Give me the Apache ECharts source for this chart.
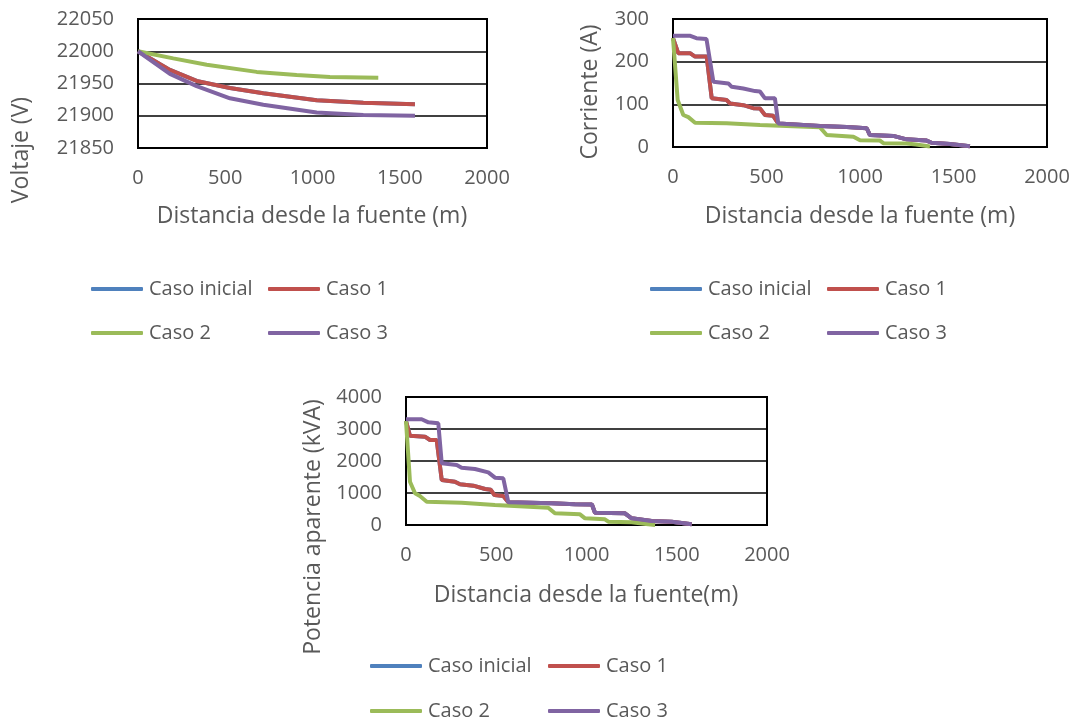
<!DOCTYPE html>
<html>
<head>
<meta charset="utf-8">
<script src="https://cdn.jsdelivr.net/npm/echarts@6/dist/echarts.min.js"></script>
<style>
html,body{margin:0;padding:0;background:#fff;}
#c{width:1076px;height:722px;}
</style>
</head>
<body>
<div id="c"></div>
<script>
// ---------- DATA ----------
var seriesNames = ['Caso inicial', 'Caso 1', 'Caso 2', 'Caso 3'];
var seriesColors = ['#4F81BD', '#C0504D', '#9BBB59', '#8064A2'];

// Voltage (V) vs distance (m)
var vDistA = [0, 183, 336, 527, 718, 1024, 1291, 1587];
var vInicial = [22000, 21971, 21954, 21943, 21935, 21924, 21920, 21918];
var vCaso1 = [22000, 21971, 21954, 21943, 21935, 21924, 21920, 21918];
var vCaso3 = [22000, 21965, 21946, 21927, 21917, 21905, 21901, 21900];
var vDist2 = [0, 202, 394, 680, 909, 1100, 1377];
var vCaso2 = [22000, 21989, 21979, 21968, 21963, 21960, 21959];

// Current (A) vs distance (m)
var iDist1 = [0, 28, 91, 118, 180, 207, 287, 305, 376, 429, 465, 492, 536, 563, 786, 929, 1036, 1053, 1178, 1249, 1356, 1383, 1481, 1588];
var iInicial = [255, 220, 220, 212, 212, 114, 110, 102, 98, 91, 90, 75, 73, 55, 49, 47, 44, 28, 26, 18, 15, 10, 7, 2];
var iCaso1 = [255, 220, 220, 212, 212, 114, 110, 102, 98, 91, 90, 75, 73, 55, 49, 47, 44, 28, 26, 18, 15, 10, 7, 2];
var iDist2 = [0, 25, 55, 82, 118, 287, 465, 786, 822, 965, 1000, 1107, 1125, 1249, 1300, 1374];
var iCaso2 = [255, 110, 75, 70, 57, 55.5, 51.5, 46, 28, 24, 16, 15, 9, 8, 6, 1];
var iDist3 = [0, 89, 125, 179, 189, 216, 296, 314, 376, 439, 465, 492, 545, 563, 786, 929, 1036, 1053, 1178, 1249, 1356, 1383, 1481, 1588];
var iCaso3 = [261, 261, 255, 253, 251, 153, 149, 141, 137, 131, 130, 114, 114, 55, 49, 47, 44, 28, 26, 18, 15, 10, 7, 2];

// Apparent power (kVA) vs distance (m)
var pDist1 = [0, 22, 105, 133, 170, 198, 271, 299, 373, 438, 470, 490, 539, 567, 807, 936, 1030, 1047, 1213, 1250, 1361, 1472, 1583];
var pInicial = [3250, 2792, 2760, 2656, 2656, 1406, 1354, 1271, 1229, 1125, 1100, 937, 906, 708, 677, 646, 640, 385, 365, 208, 125, 104, 21];
var pCaso1 = [3250, 2792, 2760, 2656, 2656, 1406, 1354, 1271, 1229, 1125, 1100, 937, 906, 708, 677, 646, 640, 385, 365, 208, 125, 104, 21];
var pDist2 = [0, 22, 50, 77, 115, 308, 493, 788, 825, 964, 992, 1102, 1121, 1250, 1342, 1380];
var pCaso2 = [3250, 1354, 990, 906, 729, 698, 625, 542, 365, 333, 208, 177, 104, 83, 21, 0];
var pDist3 = [0, 87, 124, 179, 198, 281, 308, 382, 456, 493, 539, 567, 807, 936, 1030, 1047, 1213, 1250, 1361, 1472, 1583];
var pCaso3 = [3303, 3303, 3208, 3177, 1927, 1875, 1792, 1750, 1646, 1479, 1458, 708, 677, 646, 640, 385, 365, 208, 125, 104, 21];

var xTitle1 = 'Distancia desde la fuente (m)';
var xTitle3 = 'Distancia desde la fuente(m)';
var yTitles = ['Voltaje (V)', 'Corriente (A)', 'Potencia aparente (kVA)'];

// ---------- CHART ----------
function pairs(d, v) { return d.map(function (x, i) { return [x, v[i]]; }); }

var FONT = 'Open Sans';
var TXT = '#595959';

var grids = [
  { left: 138, top: 19, width: 349, height: 129 },
  { left: 673, top: 19, width: 374, height: 128 },
  { left: 406, top: 397, width: 361, height: 128 }
];
var yRanges = [
  { min: 21850, max: 22050, interval: 50 },
  { min: 0, max: 300, interval: 100 },
  { min: 0, max: 4000, interval: 1000 }
];

var chartData = [
  [pairs(vDistA, vInicial), pairs(vDistA, vCaso1), pairs(vDist2, vCaso2), pairs(vDistA, vCaso3)],
  [pairs(iDist1, iInicial), pairs(iDist1, iCaso1), pairs(iDist2, iCaso2), pairs(iDist3, iCaso3)],
  [pairs(pDist1, pInicial), pairs(pDist1, pCaso1), pairs(pDist2, pCaso2), pairs(pDist3, pCaso3)]
];

function plain(v) { return String(v); }

var option = {
  animation: false,
  grid: grids.map(function (g) {
    return Object.assign({ show: true, borderColor: '#000', borderWidth: 2, backgroundColor: 'transparent', containLabel: false }, g);
  }),
  xAxis: grids.map(function (g, i) {
    return {
      type: 'value', gridIndex: i, min: 0, max: 2000, interval: 500,
      axisLine: { show: true, lineStyle: { color: '#000', width: 2 } },
      axisTick: { show: false },
      splitLine: { show: false },
      axisLabel: { color: TXT, fontFamily: FONT, fontSize: 20, margin: 20, formatter: plain }
    };
  }),
  yAxis: grids.map(function (g, i) {
    return {
      type: 'value', gridIndex: i, min: yRanges[i].min, max: yRanges[i].max, interval: yRanges[i].interval,
      axisLine: { show: true, lineStyle: { color: '#000', width: 2 } },
      axisTick: { show: false },
      splitLine: { show: true, lineStyle: { color: '#000', width: 1.5 } },
      axisLabel: { color: TXT, fontFamily: FONT, fontSize: 20, margin: 24, formatter: plain }
    };
  }),
  series: [],
  legend: [],
  graphic: []
};

chartData.forEach(function (sets, ci) {
  sets.forEach(function (d, si) {
    option.series.push({
      type: 'line', name: seriesNames[si], xAxisIndex: ci, yAxisIndex: ci,
      data: d, showSymbol: false, symbol: 'none',
      lineStyle: { color: seriesColors[si], width: 4 },
      itemStyle: { color: seriesColors[si] },
      z: 2 + si
    });
  });
});

var legendPos = [
  { c1: 91, c2: 268, r1: 288, r2: 332 },
  { c1: 650, c2: 827, r1: 288, r2: 332 },
  { c1: 370, c2: 548, r1: 665, r2: 710 }
];
legendPos.forEach(function (p) {
  var spots = [[p.c1, p.r1], [p.c2, p.r1], [p.c1, p.r2], [p.c2, p.r2]];
  spots.forEach(function (s, si) {
    option.legend.push({
      data: [seriesNames[si]], left: s[0], top: s[1] - 9, padding: 0,
      icon: 'roundRect', itemWidth: 52, itemHeight: 4, itemGap: 0,
      textStyle: { color: TXT, fontFamily: FONT, fontSize: 20, padding: [0, 0, 0, 1] }
    });
  });
});

var titleStyle = { fill: TXT, fontFamily: FONT, fontSize: 23, textAlign: 'center', textVerticalAlign: 'middle' };
function txt(t, x, y, rot) {
  return { type: 'text', x: x, y: y, rotation: rot || 0, style: Object.assign({ text: t }, titleStyle) };
}
option.graphic = [
  txt(xTitle1, 312, 216),
  txt(xTitle1, 860, 216),
  txt(xTitle3, 586, 595),
  txt(yTitles[0], 21, 150, Math.PI / 2),
  txt(yTitles[1], 590, 92, Math.PI / 2),
  txt(yTitles[2], 313, 527, Math.PI / 2)
];

var chart = echarts.init(document.getElementById('c'), null, { renderer: 'canvas' });
chart.setOption(option);
</script>
</body>
</html>
